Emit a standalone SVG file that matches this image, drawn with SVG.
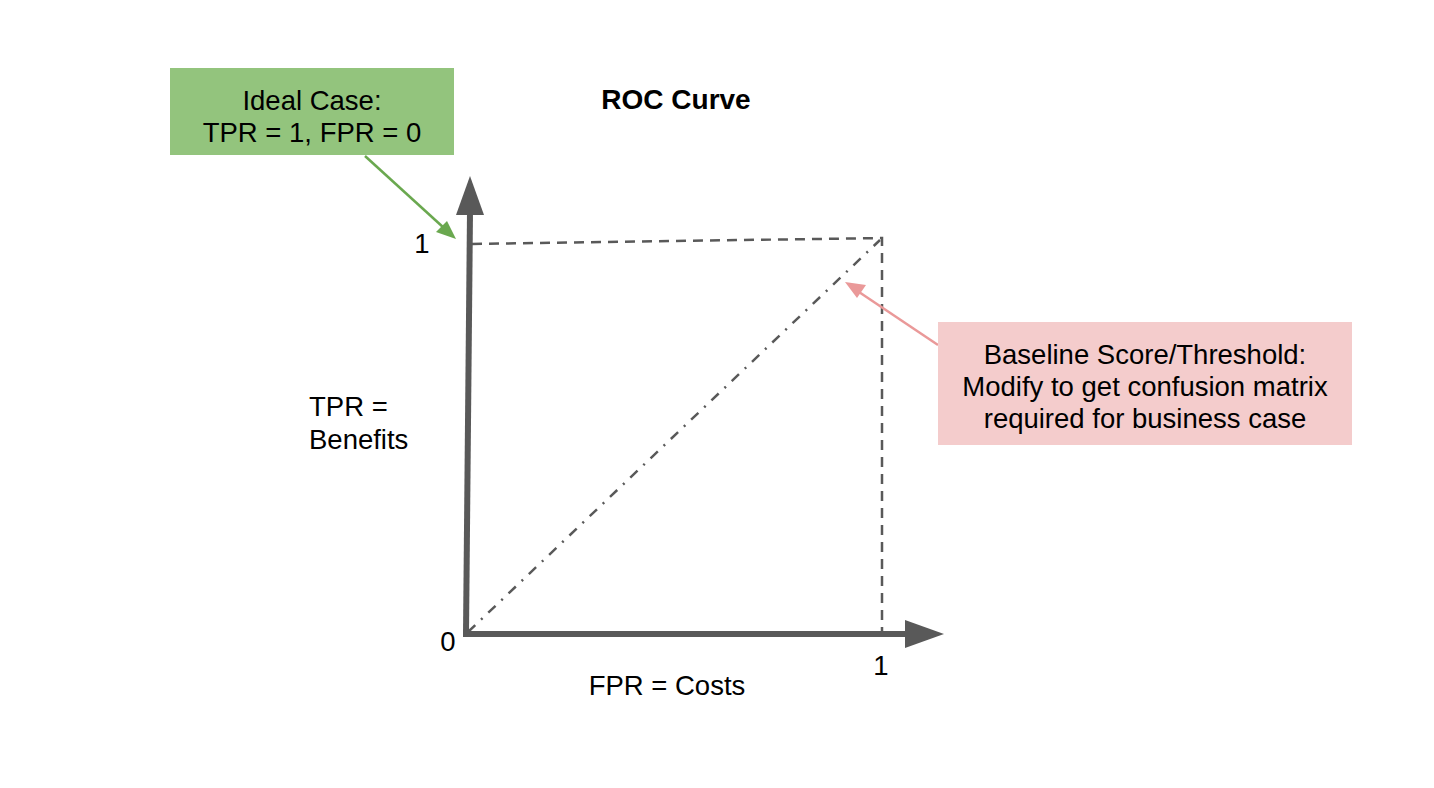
<svg xmlns="http://www.w3.org/2000/svg" width="1434" height="788" viewBox="0 0 1434 788">
<defs>
<style>
text{font-family:"Liberation Sans",Arial,sans-serif;font-size:27.5px;fill:#000}
.c{text-anchor:middle}
.axis{stroke:#595959;stroke-width:6;fill:none}
.dash{stroke:#595959;stroke-width:2.5;fill:none;stroke-dasharray:10 7}
.dashdot{stroke:#595959;stroke-width:2.5;fill:none;stroke-dasharray:10 8 2 8}
</style>
</defs>
<rect width="1434" height="788" fill="#fff"/>
<g id="connectors">
<path class="axis" d="M466,634 L470,212"/>
<path d="M470,176 L456,215 L484,215 Z" fill="#595959"/>
<path class="axis" d="M463,634 L907,634"/>
<path d="M944,634 L905,620 L905,648 Z" fill="#595959"/>
<path class="dash" d="M472,244 L882,238 L882,631"/>
<path class="dashdot" d="M468,632 L880,240"/>
<path d="M365,156 L444,228" stroke="#6aa84f" stroke-width="2.5" fill="none"/>
<path d="M456,239 L436,232 L447,221 Z" fill="#6aa84f"/>
<path d="M938,345 L856,290" stroke="#ea9999" stroke-width="2.5" fill="none"/>
<path d="M845,282 L866,285 L857,298 Z" fill="#ea9999"/>
</g>
<g id="ideal">
<rect x="170" y="68" width="284" height="87" fill="#93c47d"/>
<text class="c" x="312" y="110">Ideal Case:</text>
<text class="c" x="312" y="142">TPR = 1, FPR = 0</text>
</g>
<g id="baseline">
<rect x="938" y="322" width="414" height="123" fill="#f4cccc"/>
<text class="c" x="1145" y="364">Baseline Score/Threshold:</text>
<text class="c" x="1145" y="396">Modify to get confusion matrix</text>
<text class="c" x="1145" y="428">required for business case</text>
</g>
<g id="labels">
<text class="c" x="676" y="109" font-weight="bold" style="font-size:28px">ROC Curve</text>
<text class="c" x="422" y="253">1</text>
<text class="c" x="448" y="651">0</text>
<text class="c" x="881" y="675">1</text>
<text x="309" y="416">TPR =</text>
<text x="309" y="449">Benefits</text>
<text class="c" x="667" y="695">FPR = Costs</text>
</g>
</svg>
